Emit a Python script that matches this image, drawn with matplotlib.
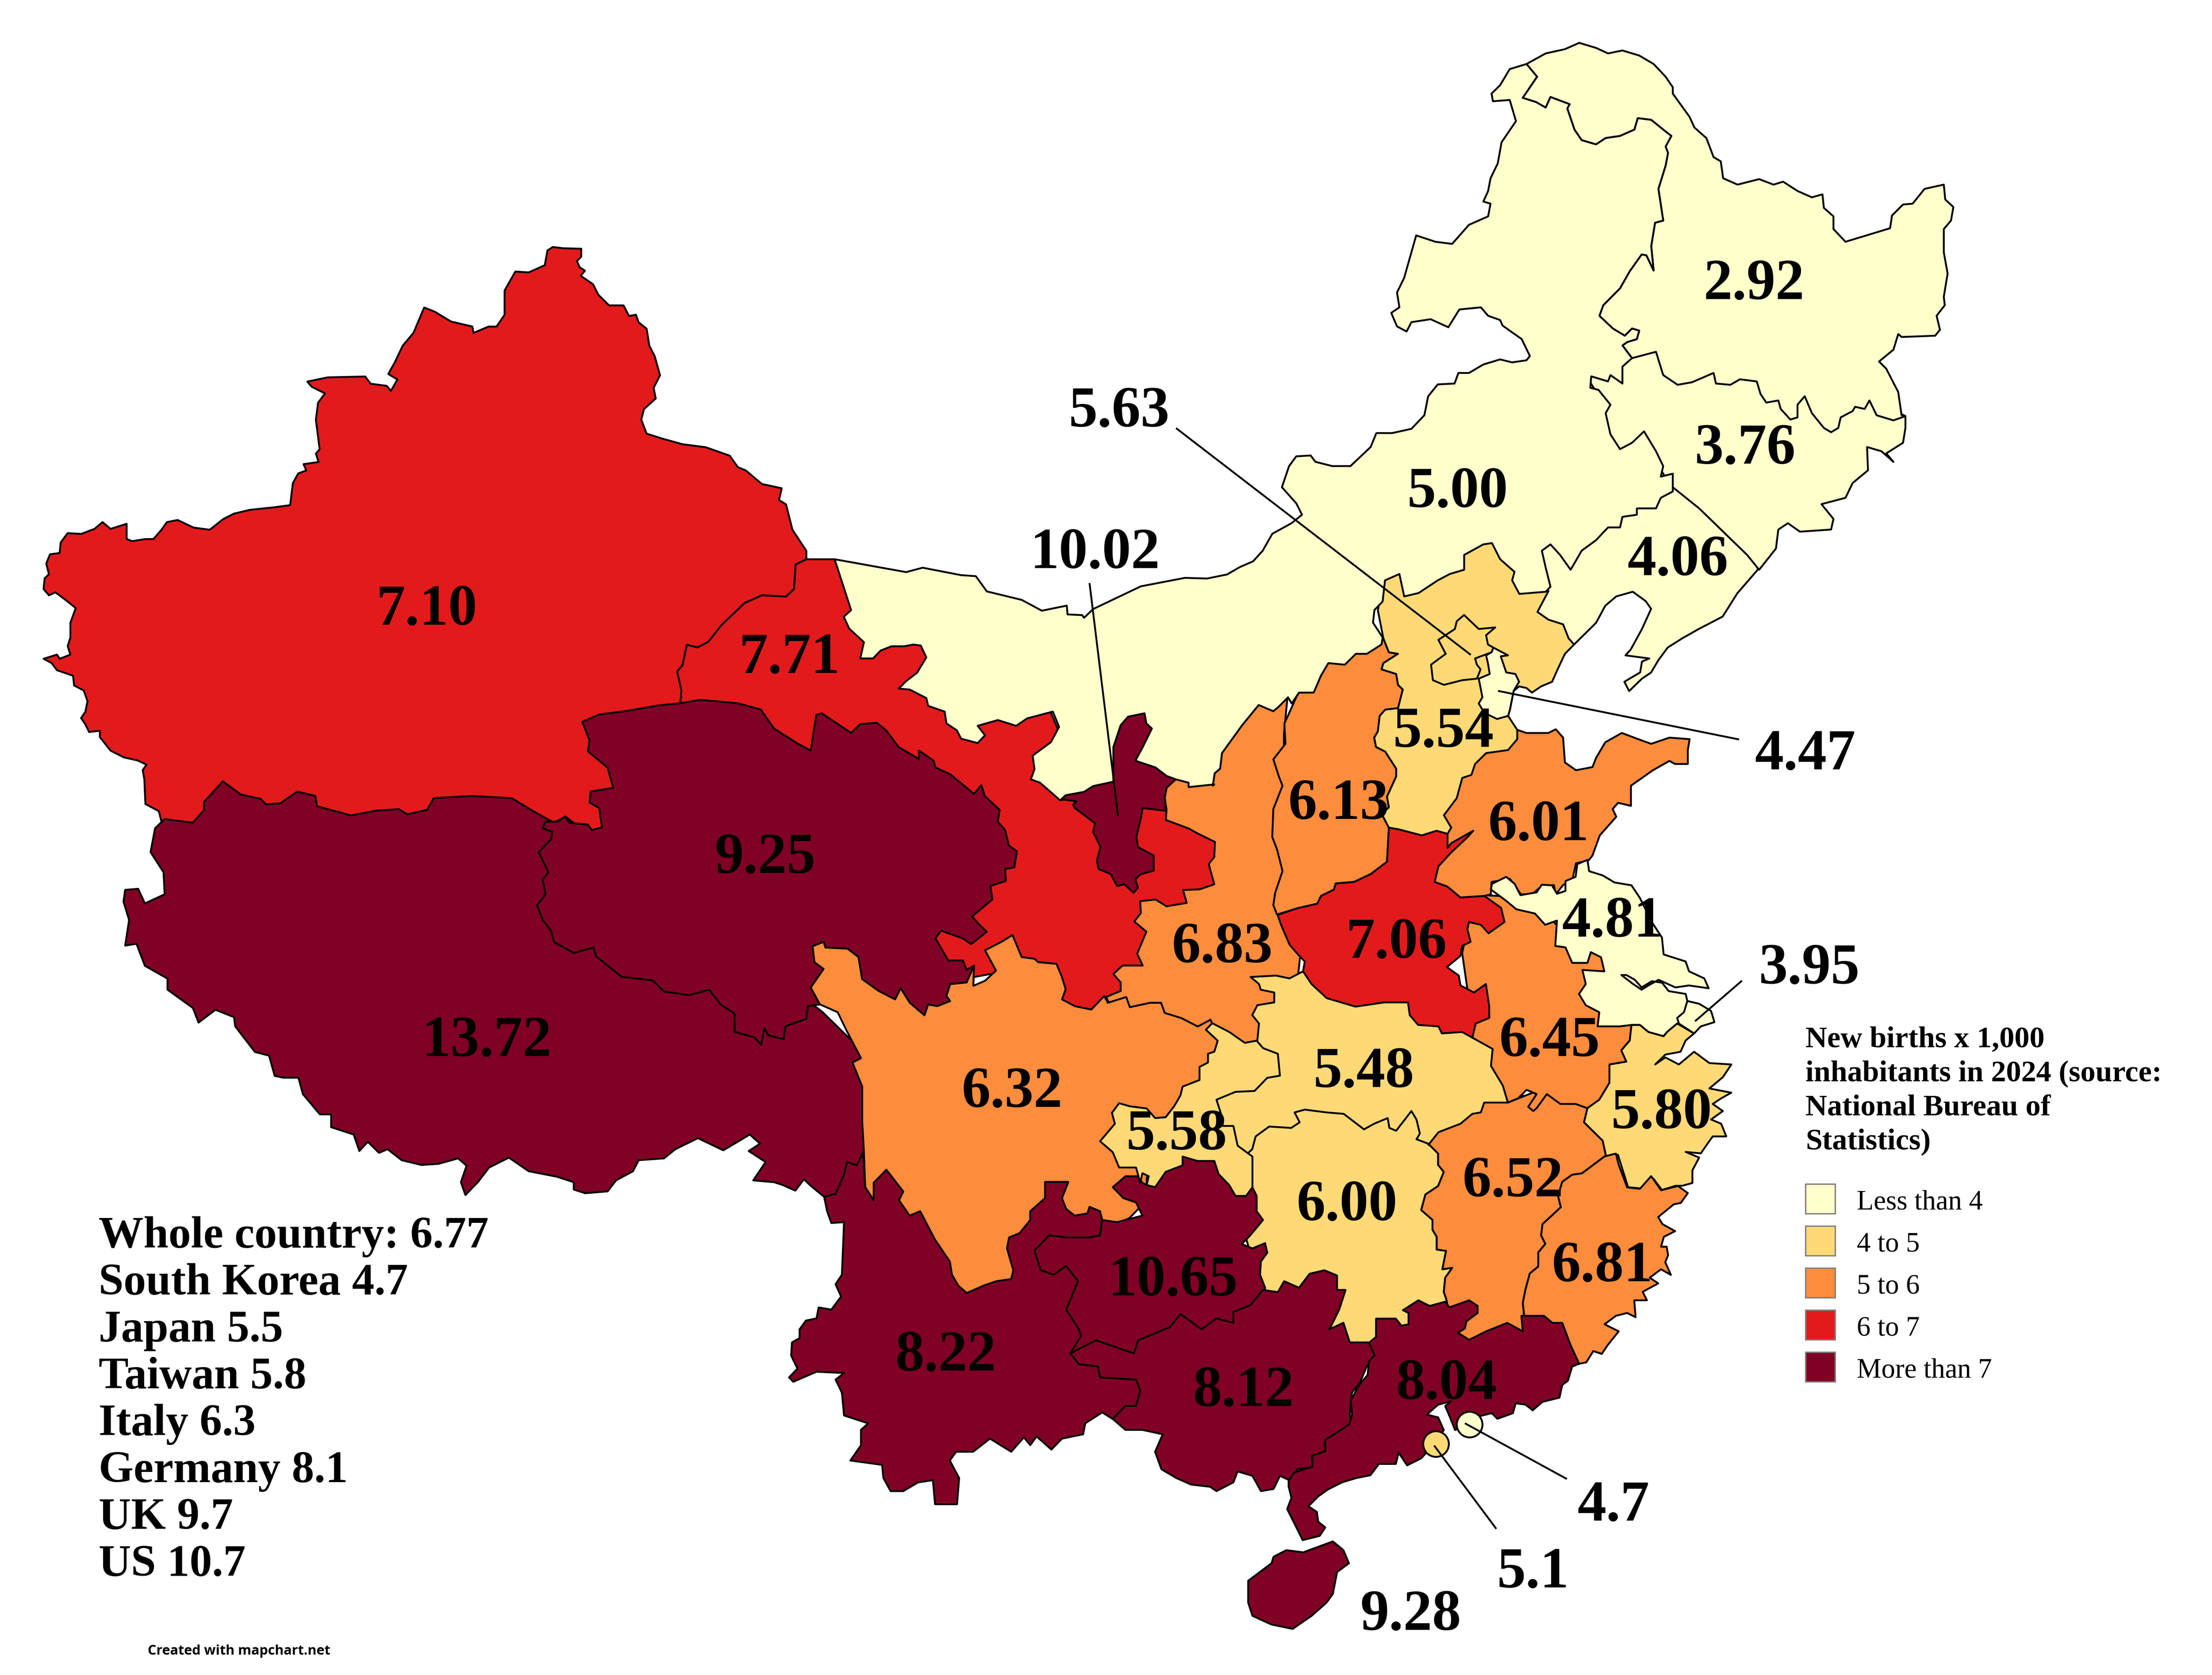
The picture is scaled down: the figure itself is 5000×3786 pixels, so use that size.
import matplotlib
matplotlib.use("Agg")
import matplotlib.pyplot as plt
from matplotlib.patches import Circle, Rectangle

WIDTH, HEIGHT = 5000, 3787
SERIF = ["Liberation Serif", "DejaVu Serif"]

# regions of the reference the outlines were read from: x, y, width, height
NW = (50, 500, 1900, 1500)
SW = (200, 1500, 2000, 1300)
NE = (2800, 50, 1700, 1500)
NORTH = (2700, 1100, 1300, 1100)
EAST = (2800, 1900, 1200, 1000)
MID = (1700, 1200, 1300, 1200)
SOUTH = (1750, 2200, 1500, 1550)
SE = (2900, 2500, 1000, 1000)


def trace(crop, pts):
    x0, y0, w, h = crop
    return [(x0 + px * w / 1568, y0 + py * h / 1568) for px, py in pts]


COLORS = ["#FFFFCC", "#FED976", "#FD8D3C", "#E31A1C", "#800026"]
LEGEND_LABELS = ["Less than 4", "4 to 5", "5 to 6", "6 to 7", "More than 7"]
LEGEND_TITLE = ["New births x 1,000", "inhabitants in 2024 (source:", "National Bureau of", "Statistics)"]
COMPARISON = ["Whole country: 6.77", "South Korea 4.7", "Japan 5.5", "Taiwan 5.8",
              "Italy 6.3", "Germany 8.1", "UK 9.7", "US 10.7"]

RATE_LABELS = ["2.92", "3.76", "4.06", "5.00", "5.63", "10.02", "7.10", "7.71", "9.25", "13.72", "5.54",
               "4.47", "6.13", "6.01", "6.83", "7.06", "4.81", "3.95", "6.45", "5.48", "6.32", "5.58",
               "5.80", "6.52", "6.00", "6.81", "10.65", "8.22", "8.12", "8.04", "9.28", "4.7", "5.1"]
RATE_X = [3965, 3945, 3792, 3295, 2530, 2475, 965, 1785, 1730, 1100, 3263,
          4080, 3026, 3478, 2763, 3157, 3644, 4090, 3503, 3083, 2288, 2660,
          3756, 3420, 3045, 3622, 2651, 2138, 2811, 3270, 3189, 3647, 3465]
RATE_Y = [645, 1016, 1269, 1115, 933, 1253, 1381, 1490, 1942, 2356, 1657,
          1708, 1820, 1868, 2144, 2134, 2086, 2192, 2356, 2426, 2471, 2567,
          2519, 2673, 2727, 2865, 2897, 3067, 3147, 3131, 3653, 3406, 3557]

LEADERS_X = [(2660, 3323), (3388, 3929), (2463, 2527), (3833, 3936), (3313, 3540), (3243, 3381)]
LEADERS_Y = [(970, 1480), (1563, 1672), (1321, 1843), (2308, 2219), (3219, 3343), (3270, 3455)]
CITY_X = [3322, 3246]
CITY_Y = [3221, 3265]
CITY_CLASS = [0, 1]

XINJIANG = trace(NW, [(990, 62), (1010, 65), (1043, 66), (1043, 85), (1035, 95), (1040, 110), (1050, 118), (1042, 130),
    (1065, 150), (1075, 175), (1095, 200), (1122, 200), (1132, 225), (1145, 222), (1150, 240), (1165, 255), (1170, 295),
    (1180, 320), (1190, 365), (1178, 395), (1182, 420), (1160, 445), (1155, 470), (1165, 503), (1195, 515), (1232, 528),
    (1275, 535), (1320, 555), (1335, 582), (1350, 590), (1380, 622), (1417, 632), (1412, 660), (1425, 670), (1437, 730),
    (1463, 780), (1463, 800), (1443, 812), (1440, 870), (1425, 888), (1380, 885), (1348, 903), (1305, 955), (1280, 995),
    (1260, 1008), (1240, 1002), (1232, 1050), (1222, 1065), (1230, 1110), (1228, 1140), (1300, 1350), (1100, 1520),
    (990, 1500), (400, 1450), (260, 1420), (255, 1395), (230, 1378), (228, 1320), (225, 1298), (232, 1285), (215, 1275),
    (190, 1268), (165, 1252), (145, 1220), (145, 1205), (125, 1208), (118, 1190), (110, 1175), (118, 1160), (122, 1135),
    (115, 1110), (97, 1098), (95, 1075), (65, 1062), (55, 1045), (40, 1035), (65, 1025), (70, 1035), (90, 1025), (85, 1005),
    (90, 985), (90, 950), (100, 915), (75, 890), (62, 878), (50, 885), (40, 870), (42, 845), (50, 835), (45, 810), (52, 788),
    (70, 785), (72, 760), (85, 738), (110, 740), (135, 728), (150, 712), (165, 728), (195, 716), (195, 752), (205, 757),
    (230, 752), (245, 752), (260, 730), (270, 712), (290, 707), (320, 725), (350, 730), (375, 705), (395, 692), (425, 683),
    (470, 677), (500, 672), (505, 620), (515, 597), (530, 590), (525, 575), (553, 570), (548, 550), (555, 540), (548, 470),
    (552, 430), (565, 408), (540, 392), (532, 380), (570, 370), (640, 368), (650, 385), (680, 390), (688, 402), (700, 375),
    (683, 362), (695, 335), (710, 295), (730, 265), (750, 205), (770, 215), (800, 238), (840, 250), (842, 265), (870, 250),
    (885, 250), (900, 222), (900, 165), (920, 120), (945, 122), (975, 105), (980, 70)])

GANSU = trace(MID, [(150, 85), (225, 85), (300, 150), (450, 300), (520, 420), (800, 500), (870, 680), (870, 760), (1000, 700),
    (1140, 780), (1300, 870), (1300, 1100), (1080, 1300), (1000, 1420), (860, 1450), (700, 1300), (600, 1320), (500, 1250),
    (300, 800), (170, 700)]) + trace(NW, [(1300, 1250), (1228, 1140), (1230, 1110), (1222, 1065), (1232, 1050), (1240, 1002),
    (1260, 1008), (1280, 995), (1305, 955), (1348, 903), (1380, 885), (1425, 888), (1440, 870), (1443, 812), (1463, 800)])

TIBET = trace(SW, [(135, 425), (185, 435), (205, 400), (205, 378), (238, 322), (270, 358), (305, 370), (315, 385), (340, 382),
    (370, 350), (402, 362), (405, 390), (465, 415), (510, 402), (550, 398), (565, 412), (600, 400), (612, 368), (680, 362),
    (750, 368), (790, 405), (825, 435), (845, 418), (1000, 600), (1300, 950), (1400, 1100), (1420, 1350)]) \
    + trace(SOUTH, [(245, 525), (118, 512), (90, 490), (70, 472), (50, 498), (20, 485)]) \
    + trace(SW, [(1215, 1415), (1178, 1410), (1200, 1360), (1170, 1330), (1190, 1310), (1172, 1285), (1125, 1328), (1080, 1295),
    (1040, 1325), (1020, 1350), (975, 1355), (965, 1385), (935, 1410), (920, 1440), (880, 1445), (860, 1435), (860, 1415),
    (830, 1400), (780, 1385), (745, 1348), (710, 1375), (690, 1415), (668, 1450), (660, 1415), (670, 1370), (655, 1350),
    (620, 1365), (590, 1368), (555, 1355), (530, 1325), (515, 1335), (495, 1305), (480, 1330), (470, 1285), (430, 1265),
    (430, 1230), (410, 1230), (380, 1175), (372, 1130), (345, 1130), (330, 1125), (320, 1070), (295, 1060), (260, 990),
    (258, 965), (225, 945), (195, 980), (185, 940), (140, 890), (140, 860), (100, 825), (85, 765), (65, 770), (72, 700),
    (62, 650), (65, 618), (88, 615), (100, 655), (135, 630), (133, 570), (110, 515), (118, 450)])

QINGHAI = trace(NW, [(1228, 1140), (1265, 1132), (1335, 1140), (1378, 1155)]) \
    + trace(MID, [(60, 585), (125, 630), (160, 650), (175, 545), (190, 540), (270, 598), (295, 572), (340, 568), (365, 590),
    (400, 640), (455, 675), (455, 650), (495, 680), (500, 700), (540, 720), (605, 778), (625, 752), (635, 785), (675, 825),
    (670, 860), (690, 885), (700, 930), (722, 948), (715, 995), (690, 1000), (692, 1035), (650, 1050), (655, 1090), (600, 1140),
    (620, 1165), (640, 1185), (597, 1222), (575, 1205), (515, 1182), (500, 1205), (535, 1270), (575, 1270), (585, 1298),
    (605, 1285), (603, 1345), (585, 1335), (540, 1340), (530, 1375), (540, 1390), (505, 1405), (480, 1400), (470, 1432),
    (430, 1395), (405, 1352), (390, 1385), (345, 1360), (300, 1325), (290, 1260), (260, 1235), (200, 1232), (195, 1215),
    (165, 1228), (170, 1275), (195, 1295), (160, 1350), (185, 1400)]) \
    + trace(SW, [(1275, 935), (1272, 970), (1235, 990), (1232, 1025), (1205, 1015), (1198, 995), (1192, 1040), (1180, 1020),
    (1145, 1005), (1145, 955), (1120, 930), (1100, 890), (1065, 905), (1020, 895), (1000, 865), (945, 855), (900, 800), (895, 775),
    (860, 790), (825, 760), (820, 730), (805, 700), (795, 660), (810, 630), (805, 590), (815, 570), (798, 515), (820, 480),
    (822, 460), (805, 450), (810, 432), (832, 432), (845, 418), (852, 435), (885, 440), (892, 455), (910, 448), (905, 395),
    (888, 380), (890, 350), (930, 340), (920, 285), (885, 240), (888, 210), (875, 160), (905, 140), (955, 130), (1010, 115)])

SHAANXI = trace(MID, [(1140, 690), (1155, 735), (1130, 760), (1125, 790), (1130, 825), (1128, 855), (1190, 880), (1215, 895),
    (1262, 920), (1260, 965), (1245, 985), (1260, 1045), (1220, 1060), (1175, 1062), (1185, 1100), (1130, 1110), (1100, 1090),
    (1058, 1095), (1060, 1130), (1042, 1155), (1075, 1185), (1050, 1250), (1065, 1285), (1010, 1285), (985, 1310), (1005, 1335),
    (1005, 1360), (965, 1378), (1000, 1450), (1200, 1520), (1300, 1530), (1400, 1550), (1480, 1400), (1500, 1200), (1450, 1000),
    (1450, 600), (1460, 490), (1300, 500), (1150, 650)])

NINGXIA = trace(MID, [(960, 700), (980, 540), (1060, 510), (1110, 580), (1080, 660), (1160, 700), (1155, 735), (1130, 760),
    (1125, 790), (1128, 828), (1065, 820), (1060, 850), (1048, 905), (1052, 935), (1095, 960), (1095, 1005), (1060, 1015),
    (1045, 1030), (1052, 1055), (1040, 1070), (1015, 1045), (995, 1050), (978, 1015), (945, 1000), (940, 975), (950, 935),
    (930, 890), (935, 865), (905, 840), (880, 820), (875, 810), (885, 800), (850, 795), (840, 797), (850, 760)])

SICHUAN = trace(MID, [(165, 1228), (195, 1215), (200, 1232), (260, 1235), (290, 1260), (300, 1325), (345, 1360), (390, 1385),
    (405, 1352), (430, 1395), (470, 1432), (480, 1400), (505, 1405), (540, 1390), (530, 1375), (540, 1340), (585, 1335), (605, 1285),
    (603, 1345), (635, 1330), (665, 1300), (650, 1270), (635, 1240), (680, 1215), (710, 1195), (735, 1260), (770, 1265), (780, 1275),
    (830, 1280), (845, 1320), (855, 1355), (845, 1385), (880, 1405), (925, 1415), (960, 1375), (970, 1395), (1020, 1378),
    (1030, 1408), (1085, 1395), (1115, 1395), (1125, 1425), (1170, 1440), (1215, 1465), (1250, 1445)]) \
    + trace(SOUTH, [(1060, 180), (1000, 290), (950, 340), (900, 400), (880, 470), (880, 520), (840, 560), (780, 590), (710, 580),
    (600, 620), (560, 720), (440, 760), (300, 600), (235, 520), (215, 490), (212, 410), (208, 340), (208, 260), (185, 205),
    (205, 195), (170, 130), (150, 90), (108, 72)]) + trace(MID, [(160, 1350), (195, 1295), (170, 1275)])

YUNNAN = trace(SOUTH, [(118, 512), (145, 505), (165, 462), (172, 432), (195, 440), (210, 410), (215, 490), (235, 520), (235, 480),
    (265, 450), (305, 500), (295, 520), (320, 555), (345, 545), (380, 610), (415, 660), (420, 690), (435, 715), (455, 732),
    (495, 715), (525, 705), (560, 700), (565, 680), (550, 630), (555, 605), (580, 595), (605, 565), (605, 545), (640, 515),
    (640, 478), (695, 478), (680, 515), (690, 540), (710, 555), (740, 550), (745, 535), (770, 545), (775, 565), (780, 650),
    (800, 800), (760, 860), (900, 950), (880, 1010), (800, 1020), (775, 1005), (735, 1030), (730, 1055), (680, 1065), (655, 1090),
    (620, 1060), (605, 1080), (590, 1062), (560, 1095), (510, 1065), (470, 1095), (430, 1095), (415, 1115), (437, 1155),
    (432, 1215), (380, 1215), (375, 1160), (340, 1165), (305, 1185), (275, 1185), (258, 1155), (255, 1125), (180, 1115),
    (205, 1080), (205, 1045), (222, 1030), (165, 1012), (160, 960), (145, 930), (165, 915), (100, 912), (45, 935), (35, 925),
    (55, 905), (40, 875), (42, 845), (60, 835), (60, 815), (75, 795), (100, 790), (105, 765), (135, 770), (158, 740), (145, 712),
    (160, 690), (165, 570), (135, 572), (125, 545)])

HUBEI = trace(EAST, [(190, 465), (150, 490), (110, 480), (35, 485), (60, 510), (65, 530), (105, 540), (105, 575), (55, 585),
    (40, 620), (60, 650), (55, 710)]) + trace(SOUTH, [(1100, 200), (1030, 280), (1040, 350), (1090, 400), (1120, 430)]) \
    + trace(EAST, [(200, 1100), (500, 1100), (650, 1060), (850, 960), (800, 700), (500, 500)])

HUNAN = trace(EAST, [(40, 1095), (50, 1050), (90, 1015), (155, 1020), (180, 1000), (165, 965), (195, 955), (260, 965), (310, 970),
    (370, 1025), (400, 1005), (440, 985), (445, 1020), (465, 1030), (510, 960), (525, 990), (535, 1040), (525, 1060)]) \
    + trace(SE, [(515, 135), (550, 170), (550, 210), (570, 235), (550, 285), (505, 315), (490, 370), (530, 405), (530, 440),
    (545, 465), (545, 510), (578, 515), (565, 580), (600, 575), (575, 610), (570, 660), (580, 690), (600, 800), (300, 900)]) \
    + trace(SOUTH, [(1300, 860), (1160, 750), (1100, 560), (1100, 430)])

GUIZHOU = trace(SOUTH, [(775, 565), (810, 570), (870, 555), (855, 525), (825, 515), (800, 490), (830, 465), (860, 465), (870, 480),
    (880, 485), (900, 440), (1000, 400), (1100, 480), (1130, 490), (1140, 510), (1140, 545), (1155, 565), (1125, 600), (1105, 620),
    (1130, 630), (1160, 618), (1165, 640), (1150, 660), (1148, 690), (1160, 720), (1150, 760), (1100, 850), (950, 880), (850, 900),
    (720, 880), (700, 870), (725, 830), (720, 815), (690, 770), (718, 705), (690, 670), (660, 690), (630, 680), (615, 635),
    (650, 600), (690, 605), (745, 605), (770, 600)])

CHONGQING = trace(SOUTH, [(1035, 115), (1075, 135), (1112, 160), (1140, 155), (1155, 172), (1190, 185), (1195, 235), (1165, 240),
    (1135, 270), (1090, 272), (1045, 290), (1055, 320), (1060, 350), (1085, 350), (1095, 395), (1130, 420), (1130, 470), (1130, 490),
    (1115, 510), (1090, 510), (1075, 485), (1050, 460), (1040, 430), (1000, 430), (965, 420), (965, 440), (925, 455), (900, 490),
    (880, 485), (885, 465), (870, 458), (865, 480), (855, 445), (815, 445), (800, 410), (770, 385), (805, 345), (798, 320),
    (815, 298), (840, 305), (880, 310), (900, 332), (925, 330), (945, 305), (960, 280), (965, 260), (1005, 245), (1005, 215),
    (1025, 205), (1025, 185), (1040, 180), (1048, 155), (1020, 130)])

SHANXI = trace(NORTH, [(268, 705), (300, 620), (500, 470), (515, 490), (530, 535), (555, 540), (515, 570), (510, 590), (550, 605),
    (555, 640), (568, 655), (555, 715), (520, 720), (505, 740), (500, 790), (490, 810), (495, 840), (520, 855), (550, 910), (550, 935),
    (525, 1000), (530, 1035), (510, 1055), (530, 1100), (525, 1210), (480, 1250), (435, 1275), (385, 1280), (380, 1300), (345, 1320),
    (335, 1345), (280, 1360), (225, 1380), (215, 1350), (220, 1310), (240, 1240), (225, 1170), (212, 1130), (215, 1040), (240, 965),
    (230, 935), (215, 880), (248, 830), (245, 765)])

HEBEI = trace(NORTH, [(515, 490), (500, 400), (520, 270), (800, 150), (970, 300), (1000, 400), (1060, 470), (1035, 510), (1010, 540),
    (990, 590), (975, 630), (945, 645), (920, 665), (905, 650), (885, 645), (870, 660), (860, 720), (855, 740), (880, 785), (950, 900),
    (760, 1000), (750, 1200), (530, 1150), (530, 1100), (510, 1055), (530, 1035), (525, 1000), (550, 935), (550, 910), (520, 855),
    (495, 840), (490, 810), (500, 790), (505, 740), (520, 720), (555, 715), (568, 655), (555, 640), (550, 605), (510, 590), (515, 570),
    (555, 540), (530, 535)])

JIANGXI = trace(EAST, [(560, 1080), (590, 1035), (655, 1005), (690, 970), (715, 965), (725, 930), (795, 930), (900, 880), (1030, 900),
    (1030, 950), (1020, 1000), (1075, 1065), (1085, 1120)]) \
    + trace(SE, [(1140, 180), (1060, 240), (1025, 245), (990, 270), (975, 320), (985, 360), (920, 420), (915, 460), (930, 490), (905, 520),
    (905, 570), (875, 595), (860, 650), (850, 700), (855, 745), (870, 850), (650, 850), (590, 750), (580, 690), (570, 660), (575, 610),
    (600, 575), (565, 580), (578, 515), (545, 510), (545, 465), (530, 440), (530, 405), (490, 370), (505, 315), (550, 285), (570, 235),
    (550, 210), (550, 170), (515, 135)])

ANHUI = trace(EAST, [(725, 195), (800, 200), (900, 250), (1000, 380), (1045, 370), (1100, 430), (1100, 500), (1100, 620), (1160, 655),
    (1155, 710), (1130, 745), (1145, 785), (1095, 795), (1095, 860), (1065, 920), (1030, 950), (995, 935), (950, 935), (910, 900),
    (880, 950), (870, 960), (855, 945), (880, 900), (850, 885), (825, 915), (795, 930), (780, 870), (745, 800), (750, 740), (690, 700),
    (690, 650), (660, 400), (680, 290)])

HENAN = trace(NORTH, [(530, 1100), (555, 1105), (620, 1125), (660, 1110), (690, 1120), (690, 1165), (700, 1150), (760, 1110), (745, 1130),
    (700, 1180), (665, 1225), (655, 1275), (690, 1290), (725, 1325), (790, 1320)]) \
    + trace(EAST, [(775, 240), (785, 290), (738, 330), (715, 300), (680, 290), (675, 315), (685, 360), (660, 375), (655, 410), (615, 450),
    (650, 480), (655, 515), (695, 540), (730, 510), (740, 590), (740, 630), (700, 650), (690, 700), (660, 680), (600, 685), (590, 660),
    (530, 655), (505, 620), (500, 575), (430, 575), (345, 590), (260, 560), (215, 510), (190, 465), (195, 430), (175, 405), (150, 370),
    (125, 300), (115, 265)]) \
    + trace(NORTH, [(280, 1360), (335, 1345), (345, 1320), (380, 1300), (385, 1280), (435, 1275), (480, 1250), (525, 1210)])

SHANDONG = trace(NORTH, [(880, 785), (905, 795), (965, 795), (985, 783), (1005, 810), (1010, 890), (1040, 915), (1085, 905), (1095, 875),
    (1120, 825), (1165, 795), (1210, 815), (1245, 830), (1295, 810), (1350, 815), (1345, 850), (1345, 895), (1310, 895), (1295, 885),
    (1250, 915), (1190, 965), (1190, 1030), (1155, 1020), (1140, 1040), (1150, 1065), (1105, 1125), (1085, 1190), (1075, 1205),
    (1040, 1215), (1030, 1270), (1005, 1285), (985, 1315), (980, 1285), (945, 1290), (920, 1315), (890, 1315), (860, 1265), (810, 1275),
    (808, 1315), (790, 1320), (725, 1325), (690, 1290), (655, 1275), (665, 1225), (700, 1180), (745, 1130), (760, 1110), (700, 1150),
    (690, 1165), (690, 1120), (700, 1100), (680, 1060), (715, 1005), (730, 940), (755, 930), (765, 895), (795, 860), (855, 850), (880, 815)])

JIANGSU = trace(EAST, [(748, 155), (790, 130), (815, 155), (832, 195), (880, 185), (895, 158), (925, 160), (940, 190), (965, 180),
    (965, 145), (995, 130), (1000, 85), (1030, 70), (1035, 110), (1075, 125), (1110, 150), (1160, 160), (1185, 205), (1220, 290),
    (1250, 345), (1255, 405), (1320, 430), (1330, 465), (1375, 490), (1388, 525), (1330, 515), (1290, 522), (1240, 495), (1210, 515),
    (1190, 530), (1165, 510), (1130, 478), (1145, 478), (1170, 495), (1190, 522), (1220, 500), (1250, 505), (1270, 535), (1320, 545),
    (1325, 570), (1345, 610), (1310, 650), (1295, 650), (1265, 680), (1255, 695), (1210, 680), (1185, 655), (1160, 655), (1125, 660),
    (1060, 660), (1065, 610), (1025, 585), (1005, 545), (1025, 510), (1015, 460), (1080, 465), (1070, 415), (1040, 397), (1030, 435),
    (985, 435), (965, 380), (935, 375), (940, 285), (905, 300), (875, 260), (820, 245), (790, 215), (745, 175)])

SHANGHAI = trace(EAST, [(1325, 570), (1360, 580), (1395, 605), (1405, 645), (1365, 660), (1345, 685), (1300, 650), (1295, 630), (1315, 610)])

ZHEJIANG = trace(EAST, [(1160, 655), (1185, 655), (1210, 680), (1255, 695), (1265, 680), (1295, 650), (1345, 685), (1320, 710), (1305, 750),
    (1260, 760), (1230, 795), (1260, 770), (1300, 795), (1345, 750), (1390, 790), (1455, 795), (1430, 840), (1410, 860), (1390, 880),
    (1455, 895), (1425, 915), (1400, 935), (1430, 960), (1395, 990), (1425, 1005), (1440, 1050), (1400, 1050), (1385, 1075), (1365, 1110),
    (1320, 1105), (1360, 1125), (1340, 1170), (1340, 1215), (1310, 1225), (1290, 1225), (1250, 1240), (1225, 1200), (1195, 1235),
    (1150, 1230), (1120, 1115), (1085, 1120), (1075, 1065), (1020, 1000), (1030, 950), (1065, 920), (1095, 860), (1095, 795), (1145, 785),
    (1130, 745), (1155, 710)])

FUJIAN = trace(SE, [(1140, 180), (1180, 170), (1190, 210), (1220, 290), (1265, 295), (1305, 250), (1340, 300), (1400, 285), (1435, 310),
    (1410, 345), (1385, 350), (1330, 395), (1345, 420), (1390, 445), (1350, 465), (1340, 500), (1360, 500), (1365, 530), (1355, 555),
    (1375, 600), (1340, 580), (1300, 610), (1330, 630), (1275, 660), (1290, 690), (1245, 690), (1250, 750), (1220, 735), (1180, 745),
    (1140, 775), (1190, 800), (1150, 850), (1130, 880), (1100, 870), (1075, 910), (1050, 915), (1000, 900), (850, 770), (855, 745),
    (850, 700), (860, 650), (875, 595), (905, 570), (905, 520), (930, 490), (915, 460), (920, 420), (985, 360), (975, 320), (990, 270),
    (1025, 245), (1060, 240)])

GUANGXI = trace(SOUTH, [(700, 870), (760, 840), (850, 870), (860, 840), (935, 810), (960, 780), (1010, 815), (1045, 790), (1085, 800),
    (1085, 775), (1125, 760), (1155, 725), (1190, 730), (1205, 705), (1240, 720), (1265, 688), (1300, 680), (1330, 692), (1330, 725),
    (1350, 725), (1335, 770), (1312, 815), (1345, 800), (1360, 845), (1410, 845), (1420, 880), (1400, 900), (1385, 935), (1365, 960),
    (1360, 1010), (1365, 1030), (1300, 1075), (1305, 1100), (1270, 1105), (1275, 1130), (1235, 1135), (1228, 1165), (1195, 1150),
    (1180, 1180), (1150, 1185), (1130, 1150), (1095, 1140), (1085, 1165), (1045, 1185), (1030, 1175), (985, 1170), (950, 1155), (915, 1135),
    (900, 1095), (918, 1055), (870, 1045), (830, 1045), (800, 1020), (830, 990), (855, 990), (865, 955), (855, 930), (770, 925),
    (765, 900), (720, 895)])

GUANGDONG = trace(SE, [(330, 755), (400, 755), (420, 780), (445, 775), (445, 735), (425, 725), (480, 690), (520, 710), (575, 695), (590, 715),
    (660, 690), (690, 710), (690, 735), (650, 765), (645, 790), (620, 805), (660, 830), (720, 800), (795, 770), (850, 800), (845, 745),
    (925, 745), (955, 770), (990, 770), (1020, 850), (1050, 915), (1025, 925), (1010, 975), (990, 990), (980, 1035), (920, 1050),
    (885, 1080), (860, 1060), (825, 1055), (815, 1090), (760, 1110), (740, 1090), (700, 1100), (660, 1125), (610, 1150), (590, 1100),
    (575, 1065), (595, 1048), (550, 1060), (510, 1095), (550, 1105), (570, 1150), (540, 1195), (490, 1250), (440, 1275), (410, 1230),
    (400, 1270), (340, 1270), (310, 1310), (260, 1320), (210, 1335), (160, 1360), (125, 1385), (90, 1420), (120, 1440), (125, 1475),
    (150, 1495), (130, 1525), (70, 1540), (45, 1490), (15, 1430), (30, 1390), (20, 1350), (20, 1330), (40, 1300), (105, 1280),
    (105, 1240), (150, 1225), (150, 1185), (235, 1130), (245, 1095), (240, 1045), (270, 990), (300, 955), (305, 905), (325, 885),
    (305, 840), (330, 820)])

HAINAN = trace(SOUTH, [(1120, 1390), (1175, 1350), (1180, 1335), (1210, 1320), (1250, 1325), (1320, 1300), (1345, 1320), (1358, 1350),
    (1330, 1370), (1320, 1420), (1305, 1440), (1270, 1470), (1225, 1500), (1175, 1490), (1130, 1470), (1120, 1440)])

LIAONING = trace(NE, [(905, 1068), (960, 1110), (985, 1085), (1000, 1125), (1040, 1165), (1040, 1215), (1080, 1260), (1082, 1295)]) \
    + trace(NORTH, [(1480, 345), (1440, 420), (1375, 460), (1330, 490), (1290, 520), (1265, 560), (1245, 600), (1220, 620), (1185, 660),
    (1172, 630), (1215, 600), (1220, 565), (1240, 555), (1175, 545), (1190, 525), (1220, 460), (1245, 395), (1230, 370), (1195, 340),
    (1150, 355), (1120, 385), (1095, 440), (1035, 510), (1020, 490), (1005, 445), (965, 430), (935, 405), (965, 338)]) \
    + trace(NE, [(610, 1250), (650, 1200), (750, 1180), (800, 1150)])

JILIN = trace(NE, [(820, 795), (850, 760), (900, 800), (1100, 850), (1300, 880), (1390, 932), (1390, 960), (1385, 995), (1350, 1020), (1365, 1040),
    (1340, 1015), (1310, 1005), (1312, 1060), (1280, 1090), (1265, 1125), (1215, 1140), (1240, 1175), (1235, 1200), (1170, 1205),
    (1145, 1185), (1125, 1200), (1120, 1245), (1085, 1295), (1060, 1260), (960, 1150), (905, 1100), (880, 1060), (770, 1010), (760, 900),
    (720, 830), (790, 790)])

HEILONGJIANG = trace(NE, [(600, 100), (640, 75), (680, 65), (710, 50), (745, 62), (770, 75), (800, 68), (835, 80), (865, 100), (890, 130),
    (905, 155), (905, 170), (940, 225), (950, 250), (975, 275), (990, 320), (1005, 330), (1010, 370), (1040, 385), (1085, 372),
    (1115, 385), (1135, 378), (1165, 400), (1195, 415), (1217, 408), (1220, 440), (1240, 460), (1240, 490), (1265, 520), (1300, 508),
    (1358, 488), (1362, 458), (1385, 432), (1405, 430), (1430, 395), (1470, 385), (1473, 420), (1490, 438), (1485, 470), (1470, 490),
    (1470, 545), (1478, 595), (1470, 650), (1472, 670), (1455, 695), (1462, 728), (1452, 742), (1382, 745), (1375, 738), (1365, 775),
    (1335, 803), (1350, 820), (1375, 875), (1382, 930), (1390, 932), (1365, 942), (1330, 930), (1315, 895), (1305, 915), (1285, 910),
    (1280, 920), (1255, 935), (1250, 960), (1235, 970), (1220, 960), (1195, 925), (1180, 885), (1165, 905), (1165, 935), (1150, 940),
    (1130, 915), (1125, 895), (1100, 900), (1088, 880), (1080, 850), (1045, 845), (1025, 858), (995, 855), (990, 830), (945, 852),
    (915, 858), (885, 835), (870, 780), (820, 795), (800, 765), (810, 757), (830, 750), (835, 730), (820, 725), (805, 742), (780, 725),
    (752, 695), (760, 670), (795, 630), (815, 590), (840, 550), (850, 552), (865, 588), (860, 530), (868, 475), (885, 470), (875, 395),
    (890, 340), (895, 310), (890, 295), (902, 270), (885, 255), (860, 232), (832, 228), (825, 255), (795, 270), (765, 275), (745, 290),
    (715, 280), (700, 255), (685, 205), (690, 195), (650, 178), (640, 203), (620, 190), (592, 180), (622, 130)])

INNER_MONGOLIA = trace(NE, [(600, 100), (622, 130), (592, 180), (620, 190), (640, 203), (650, 178), (690, 195), (685, 205), (700, 255),
    (715, 280), (745, 290), (765, 275), (795, 270), (825, 255), (832, 228), (860, 232), (885, 255), (902, 270), (890, 295), (895, 310),
    (890, 340), (875, 395), (885, 470), (868, 475), (860, 530), (865, 588), (850, 552), (840, 550), (815, 590), (795, 630), (760, 670),
    (752, 695), (780, 725), (805, 742), (820, 725), (835, 730), (830, 750), (810, 757), (800, 765), (820, 795), (800, 815), (800, 855),
    (775, 835), (770, 850), (735, 838), (733, 865), (750, 870), (775, 905), (765, 925), (775, 975), (795, 1010), (820, 995), (845, 968),
    (870, 1015), (885, 1050), (880, 1075), (905, 1068), (905, 1110), (880, 1125), (870, 1150), (830, 1150), (830, 1165), (800, 1170),
    (795, 1195), (770, 1195), (745, 1225), (715, 1250), (692, 1295), (670, 1260), (650, 1235), (632, 1250), (640, 1290), (650, 1335),
    (640, 1347), (585, 1352), (570, 1320), (575, 1300), (545, 1270), (528, 1232), (510, 1235), (470, 1260), (470, 1295), (440, 1305),
    (415, 1320), (375, 1350), (345, 1358), (335, 1305), (305, 1320), (300, 1370), (283, 1390), (280, 1420), (300, 1455)]) \
    + trace(NORTH, [(510, 510), (470, 540), (440, 540), (410, 575), (365, 570), (345, 610), (325, 665), (285, 665), (265, 700), (255, 680),
    (230, 710), (215, 725), (175, 705), (130, 770), (75, 860), (70, 910), (55, 925), (50, 965)]) \
    + trace(MID, [(1260, 750), (1190, 758), (1190, 745), (1155, 735), (1130, 725), (1100, 700), (1045, 680), (1065, 640), (1090, 585),
    (1075, 570), (1070, 540), (1025, 550), (1005, 575), (985, 640), (985, 742), (930, 755), (905, 772), (855, 782), (840, 797), (785, 745),
    (760, 735), (770, 705), (765, 665), (815, 625), (837, 580), (820, 535), (750, 555), (720, 577), (670, 560), (615, 577), (635, 605),
    (615, 628), (570, 615), (558, 590), (530, 570), (525, 535), (480, 518), (475, 495), (430, 470), (400, 467), (420, 445), (450, 420),
    (475, 375), (460, 340), (440, 337), (415, 342), (380, 342), (350, 355), (330, 378), (295, 378), (305, 330), (265, 290), (250, 255),
    (270, 235), (225, 85), (420, 123), (465, 110), (570, 132), (610, 135), (640, 180), (735, 205), (790, 237), (858, 222), (860, 248),
    (900, 250), (905, 258), (930, 232), (1060, 165), (1180, 140), (1240, 142), (1295, 130), (1330, 108)]) \
    + trace(NE, [(30, 1275), (50, 1250), (70, 1210), (110, 1185), (132, 1165), (120, 1138), (90, 1100), (105, 1050), (120, 1027), (150, 1025),
    (160, 1040), (195, 1050), (233, 1050), (275, 1005), (287, 972), (320, 972), (360, 962), (387, 930), (395, 885), (415, 857), (450, 855),
    (458, 830), (480, 830), (510, 810), (545, 798), (570, 805), (600, 800), (607, 790), (590, 750), (550, 718), (545, 705), (520, 695),
    (505, 675), (460, 680), (437, 722), (400, 703), (360, 710), (350, 732), (330, 720), (318, 688), (335, 675), (330, 640), (345, 605),
    (370, 505), (410, 520), (445, 525), (480, 480), (520, 460), (525, 430), (510, 425), (520, 400), (525, 370), (540, 335), (548, 285),
    (578, 235), (565, 185), (530, 188), (527, 170), (545, 150), (565, 112)])

BEIJING = trace(NORTH, [(735, 415), (775, 460), (820, 455), (795, 480), (800, 510), (815, 520), (810, 535), (765, 555), (770, 575), (780, 590),
    (770, 620), (730, 625), (680, 640), (650, 625), (645, 575), (685, 540), (665, 495), (710, 460), (715, 435)])

TIANJIN = trace(NORTH, [(815, 520), (855, 545), (835, 548), (850, 600), (875, 605), (885, 630), (870, 660), (860, 720), (855, 740), (825, 750),
    (790, 730), (775, 700), (785, 680), (775, 620), (805, 605), (800, 570), (795, 545), (810, 535)])

# painter's order: later shapes hide the rough inner edges of earlier ones
PROVINCES = [XINJIANG, GANSU, TIBET, QINGHAI, SHAANXI, NINGXIA, SICHUAN, YUNNAN, HUBEI, HUNAN, GUIZHOU, CHONGQING,
             SHANXI, HEBEI, JIANGXI, ANHUI, HENAN, SHANDONG, JIANGSU, SHANGHAI, ZHEJIANG, FUJIAN, GUANGXI, GUANGDONG,
             HAINAN, LIAONING, JILIN, HEILONGJIANG, INNER_MONGOLIA, BEIJING, TIANJIN]
PROVINCE_CLASS = [3, 3, 4, 4, 2, 4, 2, 4, 1, 1, 4, 1,
                  2, 1, 2, 2, 3, 2, 0, 0, 1, 2, 4, 4,
                  4, 0, 0, 0, 0, 1, 0]

fig = plt.figure(figsize=(WIDTH / 100, HEIGHT / 100), dpi=100)
ax = fig.add_axes([0, 0, 1, 1])
ax.set_xlim(0, WIDTH)
ax.set_ylim(HEIGHT, 0)
ax.axis("off")

for outline, cls in zip(PROVINCES, PROVINCE_CLASS):
    xs, ys = zip(*outline)
    ax.fill(xs, ys, facecolor=COLORS[cls], edgecolor="black", linewidth=3.0, joinstyle="round")

for x, y, cls in zip(CITY_X, CITY_Y, CITY_CLASS):
    ax.add_patch(Circle((x, y), 29, facecolor=COLORS[cls], edgecolor="black", linewidth=3.0, zorder=3))

for xs, ys in zip(LEADERS_X, LEADERS_Y):
    ax.plot(xs, ys, color="black", linewidth=3.0, zorder=4)

for label, x, y in zip(RATE_LABELS, RATE_X, RATE_Y):
    ax.text(x, y, label, family=SERIF, weight="bold", fontsize=94, ha="center", va="center", zorder=5)

# comparison list, bottom left
for i, line in enumerate(COMPARISON):
    ax.text(223, 2820 + i * 106, line, family=SERIF, weight="bold", fontsize=73, va="baseline")

# legend
for i, line in enumerate(LEGEND_TITLE):
    ax.text(4081, 2367 + i * 77, line, family=SERIF, weight="bold", fontsize=49, va="baseline")
for i, (label, color) in enumerate(zip(LEGEND_LABELS, COLORS)):
    ax.add_patch(Rectangle((4081, 2677 + i * 95), 67, 67, facecolor=color, edgecolor="#808080", linewidth=2.2))
    ax.text(4197, 2734 + i * 95, label, family=SERIF, fontsize=45, va="baseline")

ax.text(334, 3740, "Created with mapchart.net", family=["Open Sans", "DejaVu Sans"], weight="bold", fontsize=22, va="baseline")

fig.savefig("out.png", dpi=100, facecolor="white")
